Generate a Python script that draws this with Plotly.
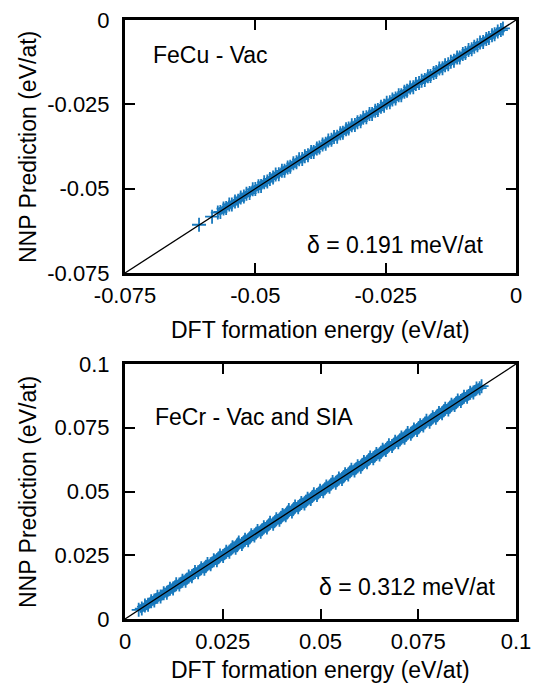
import plotly.graph_objects as go

# ---------------- data ----------------
# FeCu - Vac : DFT formation energy (eV/at) and NNP deviation (1e-4 eV/at)
fecu_dft = [
    -0.0608, -0.0583,
    -0.0572, -0.0567, -0.0561, -0.0556, -0.0550, -0.0545, -0.0539, -0.0533, -0.0528, -0.0522,
    -0.0517, -0.0511, -0.0505, -0.0500, -0.0494, -0.0489, -0.0483, -0.0477, -0.0472, -0.0466,
    -0.0461, -0.0455, -0.0449, -0.0444, -0.0438, -0.0433, -0.0427, -0.0421, -0.0416, -0.0410,
    -0.0405, -0.0399, -0.0393, -0.0388, -0.0382, -0.0377, -0.0371, -0.0365, -0.0360, -0.0354,
    -0.0349, -0.0343, -0.0337, -0.0332, -0.0326, -0.0321, -0.0315, -0.0309, -0.0304, -0.0298,
    -0.0293, -0.0287, -0.0281, -0.0276, -0.0270, -0.0265, -0.0259, -0.0253, -0.0248, -0.0242,
    -0.0237, -0.0231, -0.0225, -0.0220, -0.0214, -0.0209, -0.0203, -0.0197, -0.0192, -0.0186,
    -0.0181, -0.0175, -0.0169, -0.0164, -0.0158, -0.0153, -0.0147, -0.0141, -0.0136, -0.0130,
    -0.0125, -0.0119, -0.0113, -0.0108, -0.0102, -0.0097, -0.0091, -0.0085, -0.0080, -0.0074,
    -0.0069, -0.0063, -0.0057, -0.0052, -0.0046, -0.0041, -0.0035, -0.0029, -0.0025,
]
fecu_dev = [
    1, 0,
    1, -2, 2, -1, 3, -2, 1, -3, 2, -1,
    2, -2, 3, -1, 1, -3, 2, -2, 1, -1,
    3, -2, 2, -3, 1, -2, 2, -1, 3, -2,
    1, -2, 2, -3, 1, -1, 2, -2, 3, -1,
    2, -3, 1, -2, 2, -1, 3, -2, 1, -2,
    3, -1, 2, -3, 1, -2, 2, -1, 3, -2,
    1, -2, 2, -3, 1, -1, 3, -2, 2, -1,
    1, -3, 2, -2, 1, -1, 3, -2, 2, -1,
    1, -2, 2, -3, 1, -1, 2, -2, 1, -1,
    2, -2, 1, -1, 1, -1, 1, -1, 0,
]
fecu_isolated = 2  # first two FeCu points lie apart from the dense band

# FeCr - Vac and SIA
fecr_dft = [
    0.0035, 0.0043, 0.0051, 0.0059, 0.0067, 0.0075, 0.0083, 0.0091, 0.0099, 0.0107,
    0.0115, 0.0123, 0.0131, 0.0139, 0.0147, 0.0155, 0.0163, 0.0171, 0.0179, 0.0187,
    0.0195, 0.0203, 0.0211, 0.0219, 0.0227, 0.0235, 0.0243, 0.0251, 0.0259, 0.0267,
    0.0275, 0.0283, 0.0291, 0.0299, 0.0307, 0.0315, 0.0323, 0.0331, 0.0339, 0.0347,
    0.0355, 0.0363, 0.0371, 0.0379, 0.0387, 0.0395, 0.0403, 0.0411, 0.0419, 0.0427,
    0.0435, 0.0443, 0.0451, 0.0459, 0.0467, 0.0475, 0.0483, 0.0491, 0.0499, 0.0507,
    0.0515, 0.0523, 0.0531, 0.0539, 0.0547, 0.0555, 0.0563, 0.0571, 0.0579, 0.0587,
    0.0595, 0.0603, 0.0611, 0.0619, 0.0627, 0.0635, 0.0643, 0.0651, 0.0659, 0.0667,
    0.0675, 0.0683, 0.0691, 0.0699, 0.0707, 0.0715, 0.0723, 0.0731, 0.0739, 0.0747,
    0.0755, 0.0763, 0.0771, 0.0779, 0.0787, 0.0795, 0.0803, 0.0811, 0.0819, 0.0827,
    0.0835, 0.0843, 0.0851, 0.0859, 0.0867, 0.0875, 0.0883, 0.0891, 0.0899, 0.0907,
    0.0912,
]
fecr_dev = [
    1, -2, 2, -3, 3, -2, 4, -3, 2, -4,
    4, -3, 5, -4, 3, -5, 4, -3, 5, -4,
    4, -6, 5, -4, 3, -5, 6, -4, 5, -3,
    6, -4, 9, -5, 4, -6, 5, -4, 6, -5,
    5, -4, 6, -5, 4, -6, 5, -4, 8, -5,
    6, -5, 4, -6, 5, -4, 6, -5, 4, -6,
    5, -4, 6, -5, 4, -6, 5, -4, 6, -5,
    4, -6, 5, -4, 6, -5, 4, -6, 5, -4,
    6, -5, 4, -6, 5, -4, 6, -5, 4, -6,
    5, -4, 6, -5, 4, -6, 5, -4, 6, -5,
    5, -4, 6, -4, 5, -3, 4, -3, 5, -2,
    1,
]

fecu_ticks = [-0.075, -0.05, -0.025, 0]
fecu_ticktext = ["-0.075", "-0.05", "-0.025", "0"]
fecr_ticks = [0, 0.025, 0.05, 0.075, 0.1]
fecr_ticktext = ["0", "0.025", "0.05", "0.075", "0.1"]

fecu_label = "FeCu - Vac"
fecu_delta = "δ = 0.191 meV/at"
fecr_label = "FeCr - Vac and SIA"
fecr_delta = "δ = 0.312 meV/at"
x_title = "DFT formation energy (eV/at)"
y_title = "NNP Prediction (eV/at)"

fecu_nnp = [x + d * 1e-4 for x, d in zip(fecu_dft, fecu_dev)]
fecr_nnp = [x + d * 1e-4 for x, d in zip(fecr_dft, fecr_dev)]

BLUE = "#1879bd"
FONT = "Liberation Sans, Arial, Helvetica, sans-serif"
FS = 22
FS_ANN = 23

fig = go.Figure()

mk = dict(symbol="cross-thin-open", size=10, color=BLUE, line=dict(color=BLUE, width=1.8))

# FeCu: dense band (points joined by a thick jagged stroke) + isolated points
fig.add_trace(go.Scatter(x=fecu_dft[fecu_isolated:], y=fecu_nnp[fecu_isolated:],
                         mode="lines+markers", marker=mk,
                         line=dict(color=BLUE, width=6),
                         xaxis="x", yaxis="y", showlegend=False))
fig.add_trace(go.Scatter(x=fecu_dft[:fecu_isolated], y=fecu_nnp[:fecu_isolated],
                         mode="markers", marker=mk,
                         xaxis="x", yaxis="y", showlegend=False))
fig.add_trace(go.Scatter(x=[fecu_ticks[0], fecu_ticks[-1]], y=[fecu_ticks[0], fecu_ticks[-1]],
                         mode="lines", line=dict(color="black", width=1.3),
                         xaxis="x", yaxis="y", showlegend=False))
# FeCr
fig.add_trace(go.Scatter(x=fecr_dft, y=fecr_nnp, mode="lines+markers", marker=mk,
                         line=dict(color=BLUE, width=8),
                         xaxis="x2", yaxis="y2", showlegend=False))
fig.add_trace(go.Scatter(x=[fecr_ticks[0], fecr_ticks[-1]], y=[fecr_ticks[0], fecr_ticks[-1]],
                         mode="lines", line=dict(color="black", width=1.3),
                         xaxis="x2", yaxis="y2", showlegend=False))

L, R, T, B = 125, 20, 20, 68
W, H = 536, 687
PW, PH = W - L - R, H - T - B


def px(x):
    return (x - L) / PW


def py(y):
    return (H - B - y) / PH


axis_common = dict(
    showgrid=False, zeroline=False, showline=True, linecolor="black", linewidth=3,
    mirror="ticks", ticks="inside", ticklen=10, tickwidth=1.5, tickcolor="black",
    tickfont=dict(family=FONT, size=FS, color="black"), automargin=False,
)

fig.update_layout(
    width=W, height=H,
    margin=dict(l=L, r=R, t=T, b=B, autoexpand=False),
    paper_bgcolor="white", plot_bgcolor="white",
    font=dict(family=FONT, size=FS, color="black"),
    hovermode=False,
    xaxis=dict(domain=[0, 1], anchor="y", range=[fecu_ticks[0], fecu_ticks[-1]],
               tickvals=fecu_ticks, ticktext=fecu_ticktext, ticklabelstandoff=1, **axis_common),
    yaxis=dict(domain=[py(273), 1], anchor="x", range=[fecu_ticks[0], fecu_ticks[-1]],
               tickvals=fecu_ticks, ticktext=fecu_ticktext, ticklabelstandoff=8, **axis_common),
    xaxis2=dict(domain=[0, 1], anchor="y2", range=[fecr_ticks[0], fecr_ticks[-1]],
                tickvals=fecr_ticks, ticktext=fecr_ticktext, ticklabelstandoff=1, **axis_common),
    yaxis2=dict(domain=[0, py(364)], anchor="x2", range=[fecr_ticks[0], fecr_ticks[-1]],
                tickvals=fecr_ticks, ticktext=fecr_ticktext, ticklabelstandoff=8, **axis_common),
)

ann = [
    dict(text=fecu_label, x=px(151), y=py(55), xanchor="left", yanchor="middle", size=FS_ANN),
    dict(text=fecu_delta, x=px(305), y=py(245), xanchor="left", yanchor="middle", size=FS_ANN),
    dict(text=fecr_label, x=px(153), y=py(417), xanchor="left", yanchor="middle", size=FS_ANN),
    dict(text=fecr_delta, x=px(317), y=py(587), xanchor="left", yanchor="middle", size=FS_ANN),
    dict(text=x_title, x=0.5, y=py(330), xanchor="center", yanchor="middle", size=FS_ANN),
    dict(text=x_title, x=0.5, y=py(670), xanchor="center", yanchor="middle", size=FS_ANN),
    dict(text=y_title, x=px(28), y=py(147), xanchor="center", yanchor="middle", textangle=-90, size=FS_ANN),
    dict(text=y_title, x=px(28), y=py(492), xanchor="center", yanchor="middle", textangle=-90, size=FS_ANN),
]
for a in ann:
    size = a.pop("size")
    fig.add_annotation(xref="paper", yref="paper", showarrow=False,
                       font=dict(family=FONT, size=size, color="black"), **a)

fig.write_html("out.html",
               config={"displayModeBar": False},
               post_script="document.body.style.margin='0px';document.body.style.overflow='hidden';")
